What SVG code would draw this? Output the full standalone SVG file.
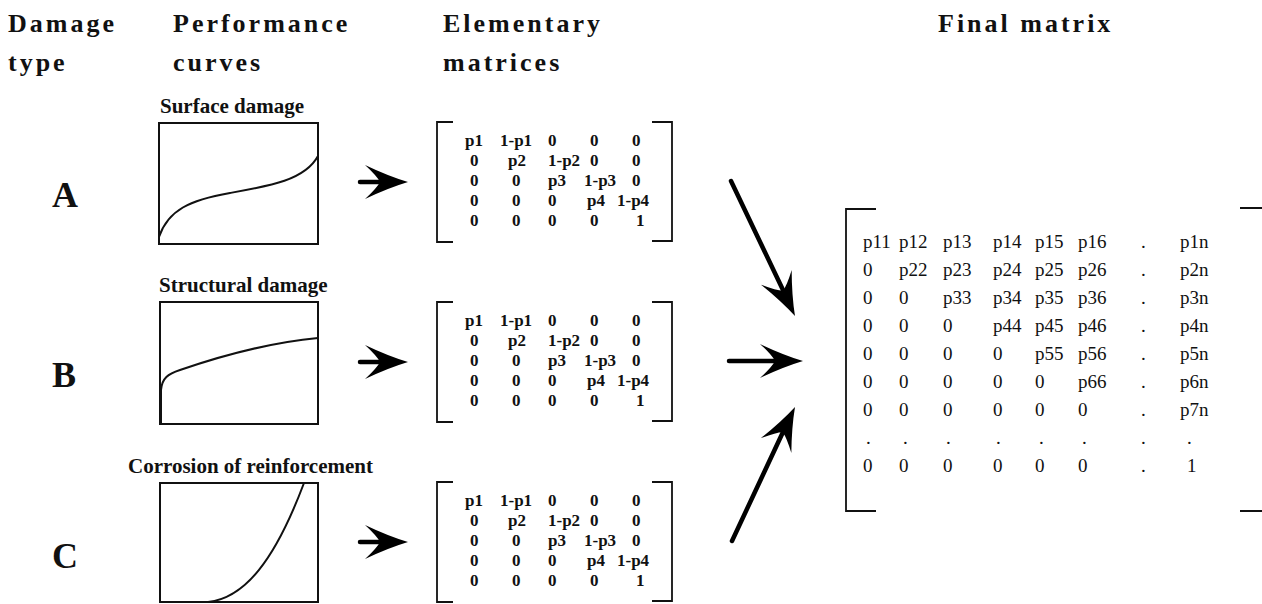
<svg xmlns="http://www.w3.org/2000/svg" width="1262" height="604" viewBox="0 0 1262 604">
<style>
.hdr{font-family:"Liberation Serif",serif;font-weight:bold;font-size:26px;letter-spacing:3px;fill:#111}
.cap{font-family:"Liberation Serif",serif;font-weight:bold;font-size:21px;fill:#111}
.lbl{font-family:"Liberation Serif",serif;font-weight:bold;font-size:36px;fill:#111}
.em{font-family:"Liberation Serif",serif;font-weight:bold;font-size:17px;fill:#111}
.fm{font-family:"Liberation Serif",serif;font-size:19px;fill:#111}
.box{fill:none;stroke:#111;stroke-width:2}
.crv{fill:none;stroke:#111;stroke-width:2}
.brk{fill:none;stroke:#111;stroke-width:1.8}
.shaft{stroke:#000;stroke-width:4.5;stroke-linecap:round}
.head{fill:#000}
</style>
<defs>
<path id="ah" d="M0,0 Q-20,-6 -43,-17 Q-31,-6 -28,0 Q-31,6 -43,17 Q-20,6 0,0 Z"/>
<g id="emat">
<path class="brk" d="M453,0 L437,0 L437,120 L453,120"/>
<path class="brk" d="M652,0 L672,0 L672,119 L652,119"/>
<text class="em" y="24"><tspan x="465">p1</tspan><tspan x="500">1-p1</tspan><tspan x="548">0</tspan><tspan x="590">0</tspan><tspan x="632">0</tspan></text>
<text class="em" y="44"><tspan x="470">0</tspan><tspan x="508">p2</tspan><tspan x="548">1-p2</tspan><tspan x="590">0</tspan><tspan x="632">0</tspan></text>
<text class="em" y="64"><tspan x="470">0</tspan><tspan x="512">0</tspan><tspan x="548">p3</tspan><tspan x="584">1-p3</tspan><tspan x="632">0</tspan></text>
<text class="em" y="84"><tspan x="470">0</tspan><tspan x="512">0</tspan><tspan x="548">0</tspan><tspan x="587">p4</tspan><tspan x="617">1-p4</tspan></text>
<text class="em" y="104"><tspan x="470">0</tspan><tspan x="512">0</tspan><tspan x="548">0</tspan><tspan x="590">0</tspan><tspan x="636">1</tspan></text>
</g>
</defs>
<rect width="1262" height="604" fill="#fff"/>

<g id="headers">
<text class="hdr" x="8" y="32">Damage</text>
<text class="hdr" x="8" y="71">type</text>
<text class="hdr" x="173" y="32">Performance</text>
<text class="hdr" x="173" y="71">curves</text>
<text class="hdr" x="443" y="32">Elementary</text>
<text class="hdr" x="443" y="71">matrices</text>
<text class="hdr" x="938" y="32">Final matrix</text>
</g>

<g id="type-A"><text class="lbl" x="52" y="207">A</text></g>
<g id="type-B"><text class="lbl" x="52" y="387">B</text></g>
<g id="type-C"><text class="lbl" x="52" y="568">C</text></g>

<g id="curve-A">
<text class="cap" x="160" y="113">Surface damage</text>
<rect class="box" x="159" y="123" width="159" height="121"/>
<path class="crv" d="M159,237 C168,210 190,200 230,193 C270,186 305,180 318,156"/>
</g>
<g id="curve-B">
<text class="cap" x="159" y="292">Structural damage</text>
<rect class="box" x="160" y="302" width="158" height="122"/>
<path class="crv" d="M161,423 L161,390 C162,378 168,374 180,370 C215,358 265,343 318,338"/>
</g>
<g id="curve-C">
<text class="cap" x="128" y="473">Corrosion of reinforcement</text>
<rect class="box" x="160" y="483" width="158" height="119"/>
<path class="crv" d="M208,602 C245,598 275,560 304,483"/>
</g>

<g id="matrix-A"><use href="#emat" transform="translate(0,122)"/></g>
<g id="matrix-B"><use href="#emat" transform="translate(0,302)"/></g>
<g id="matrix-C"><use href="#emat" transform="translate(0,482)"/></g>

<g id="final-matrix">
<path class="brk" d="M876,209 L846,209 L846,511 L876,511"/>
<path class="brk" d="M1240,208 L1262,208 M1240,511 L1262,511"/>
<text class="fm" y="248"><tspan x="863">p11</tspan><tspan x="899">p12</tspan><tspan x="943">p13</tspan><tspan x="993">p14</tspan><tspan x="1035">p15</tspan><tspan x="1078">p16</tspan><tspan x="1141">.</tspan><tspan x="1180">p1n</tspan></text>
<text class="fm" y="276"><tspan x="863">0</tspan><tspan x="899">p22</tspan><tspan x="943">p23</tspan><tspan x="993">p24</tspan><tspan x="1035">p25</tspan><tspan x="1078">p26</tspan><tspan x="1141">.</tspan><tspan x="1180">p2n</tspan></text>
<text class="fm" y="304"><tspan x="863">0</tspan><tspan x="899">0</tspan><tspan x="943">p33</tspan><tspan x="993">p34</tspan><tspan x="1035">p35</tspan><tspan x="1078">p36</tspan><tspan x="1141">.</tspan><tspan x="1180">p3n</tspan></text>
<text class="fm" y="332"><tspan x="863">0</tspan><tspan x="899">0</tspan><tspan x="943">0</tspan><tspan x="993">p44</tspan><tspan x="1035">p45</tspan><tspan x="1078">p46</tspan><tspan x="1141">.</tspan><tspan x="1180">p4n</tspan></text>
<text class="fm" y="360"><tspan x="863">0</tspan><tspan x="899">0</tspan><tspan x="943">0</tspan><tspan x="993">0</tspan><tspan x="1035">p55</tspan><tspan x="1078">p56</tspan><tspan x="1141">.</tspan><tspan x="1180">p5n</tspan></text>
<text class="fm" y="388"><tspan x="863">0</tspan><tspan x="899">0</tspan><tspan x="943">0</tspan><tspan x="993">0</tspan><tspan x="1035">0</tspan><tspan x="1078">p66</tspan><tspan x="1141">.</tspan><tspan x="1180">p6n</tspan></text>
<text class="fm" y="416"><tspan x="863">0</tspan><tspan x="899">0</tspan><tspan x="943">0</tspan><tspan x="993">0</tspan><tspan x="1035">0</tspan><tspan x="1078">0</tspan><tspan x="1141">.</tspan><tspan x="1180">p7n</tspan></text>
<text class="fm" y="444"><tspan x="866">.</tspan><tspan x="903">.</tspan><tspan x="946">.</tspan><tspan x="996">.</tspan><tspan x="1039">.</tspan><tspan x="1082">.</tspan><tspan x="1141">.</tspan><tspan x="1187">.</tspan></text>
<text class="fm" y="472"><tspan x="863">0</tspan><tspan x="899">0</tspan><tspan x="943">0</tspan><tspan x="993">0</tspan><tspan x="1035">0</tspan><tspan x="1078">0</tspan><tspan x="1141">.</tspan><tspan x="1187">1</tspan></text>
</g>

<g id="connectors">
<line class="shaft" x1="360" y1="182" x2="384" y2="182"/>
<use href="#ah" class="head" transform="translate(408,182)"/>
<line class="shaft" x1="360" y1="362" x2="384" y2="362"/>
<use href="#ah" class="head" transform="translate(408,362)"/>
<line class="shaft" x1="360" y1="542" x2="384" y2="542"/>
<use href="#ah" class="head" transform="translate(408,542)"/>
<line class="shaft" x1="731" y1="181" x2="783" y2="290"/>
<use href="#ah" class="head" transform="translate(795,316) rotate(64.3)"/>
<line class="shaft" x1="729" y1="361" x2="776" y2="361"/>
<use href="#ah" class="head" transform="translate(803,361)"/>
<line class="shaft" x1="732" y1="541" x2="783" y2="432"/>
<use href="#ah" class="head" transform="translate(795,407) rotate(-63.9)"/>
</g>
</svg>
